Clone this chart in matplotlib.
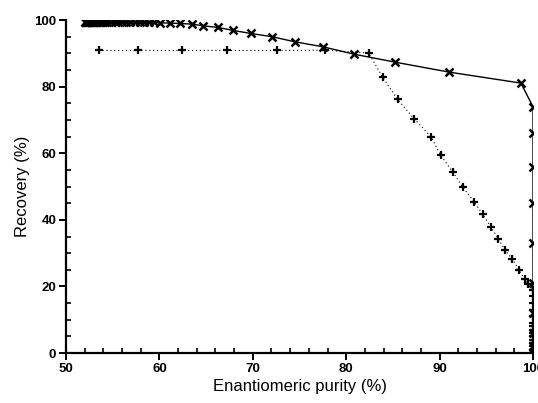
import matplotlib
matplotlib.use("Agg")
import matplotlib.pyplot as plt
from matplotlib.ticker import MultipleLocator

plt.rcParams['font.family'] = ['Liberation Sans', 'DejaVu Sans']

# Series 1: "x" markers, solid line
purity_x = [52.0, 52.05, 52.1, 52.15, 52.2, 52.3, 52.4, 52.5, 52.6, 52.7, 52.8, 52.9, 53.0,
            53.1, 53.2, 53.35, 53.5, 53.65, 53.8, 54.0, 54.2, 54.4, 54.8, 55.2, 55.6,
            56.0, 56.4, 56.9, 57.4, 57.9, 58.4, 58.9, 59.4, 60.1, 61.1, 62.2, 63.5,
            64.7, 66.3, 67.9, 69.8, 72.1, 74.5, 77.5, 80.8, 85.2, 91.0, 98.7,
            100.0, 100.0, 100.0, 100.0, 100.0, 100.0, 100.0, 100.0, 100.0, 100.0]
recovery_x = [99.4, 99.4, 99.4, 99.4, 99.4, 99.4, 99.4, 99.4, 99.4, 99.4, 99.4, 99.4, 99.4,
              99.4, 99.4, 99.4, 99.4, 99.4, 99.4, 99.4, 99.4, 99.4, 99.4, 99.4, 99.4,
              99.4, 99.4, 99.4, 99.4, 99.4, 99.3, 99.3, 99.3, 99.2, 99.1, 99.0, 98.8,
              98.3, 97.8, 96.9, 96.0, 95.0, 93.5, 92.0, 89.8, 87.4, 84.4, 81.1,
              74.0, 66.0, 56.0, 45.0, 33.0, 21.0, 12.0, 6.0, 2.0, 0.0]

# Series 2: "+" markers, dotted line
purity_p = [53.5, 57.7, 62.4, 67.2, 72.6, 77.7, 82.4, 83.9, 85.5, 87.3, 89.1, 90.1,
            91.4, 92.5, 93.7, 94.6, 95.5, 96.3, 97.0, 97.8, 98.5, 99.1, 99.5,
            100.0, 100.0, 100.0, 100.0, 100.0, 100.0, 100.0, 100.0, 100.0, 100.0,
            100.0, 100.0, 100.0, 100.0]
recovery_p = [90.9, 90.9, 90.9, 90.9, 90.9, 91.0, 90.1, 82.9, 76.2, 70.3, 64.9, 59.5,
              54.4, 49.8, 45.4, 41.7, 37.8, 34.3, 30.9, 28.2, 24.9, 22.2, 20.7,
              19.0, 17.0, 15.0, 13.0, 11.0, 9.0, 8.0, 7.0, 6.0, 5.0,
              4.0, 3.0, 2.0, 1.0]

x_ticks = [50, 60, 70, 80, 90, 100]
y_ticks = [0, 20, 40, 60, 80, 100]

fig = plt.figure(figsize=(5.38, 4.03), dpi=100)
ax = fig.add_axes([0.1227, 0.124, 0.868, 0.826])

l1, = ax.plot(purity_x, recovery_x, color='black', lw=1.0, marker='x', ms=5.5, mew=1.8,
              linestyle='-')
l2, = ax.plot(purity_p, recovery_p, color='black', lw=0.8, marker='+', ms=5.5, mew=1.6,
              linestyle=(0, (1, 2.5)))
for ln in (l1, l2):
    ln.set_clip_path(ax.patch)

ax.set_xlim(50, 100)
ax.set_ylim(0, 100)
ax.set_xticks(x_ticks)
ax.set_yticks(y_ticks)
ax.xaxis.set_minor_locator(MultipleLocator(2))
ax.yaxis.set_minor_locator(MultipleLocator(5))

for s in ['top', 'right']:
    ax.spines[s].set_visible(False)
for s in ['left', 'bottom']:
    ax.spines[s].set_linewidth(1.6)

ax.tick_params(which='major', direction='out', length=5, width=1.4, labelsize=9.5, pad=2)
ax.tick_params(which='minor', direction='in', length=3.5, width=1.2)
for lab in ax.get_xticklabels() + ax.get_yticklabels():
    lab.set_fontweight('bold')

ax.set_xlabel('Enantiomeric purity (%)', fontsize=12, labelpad=3)
ax.set_ylabel('Recovery (%)', fontsize=12, labelpad=3)

fig.savefig('out.png', dpi=100)
